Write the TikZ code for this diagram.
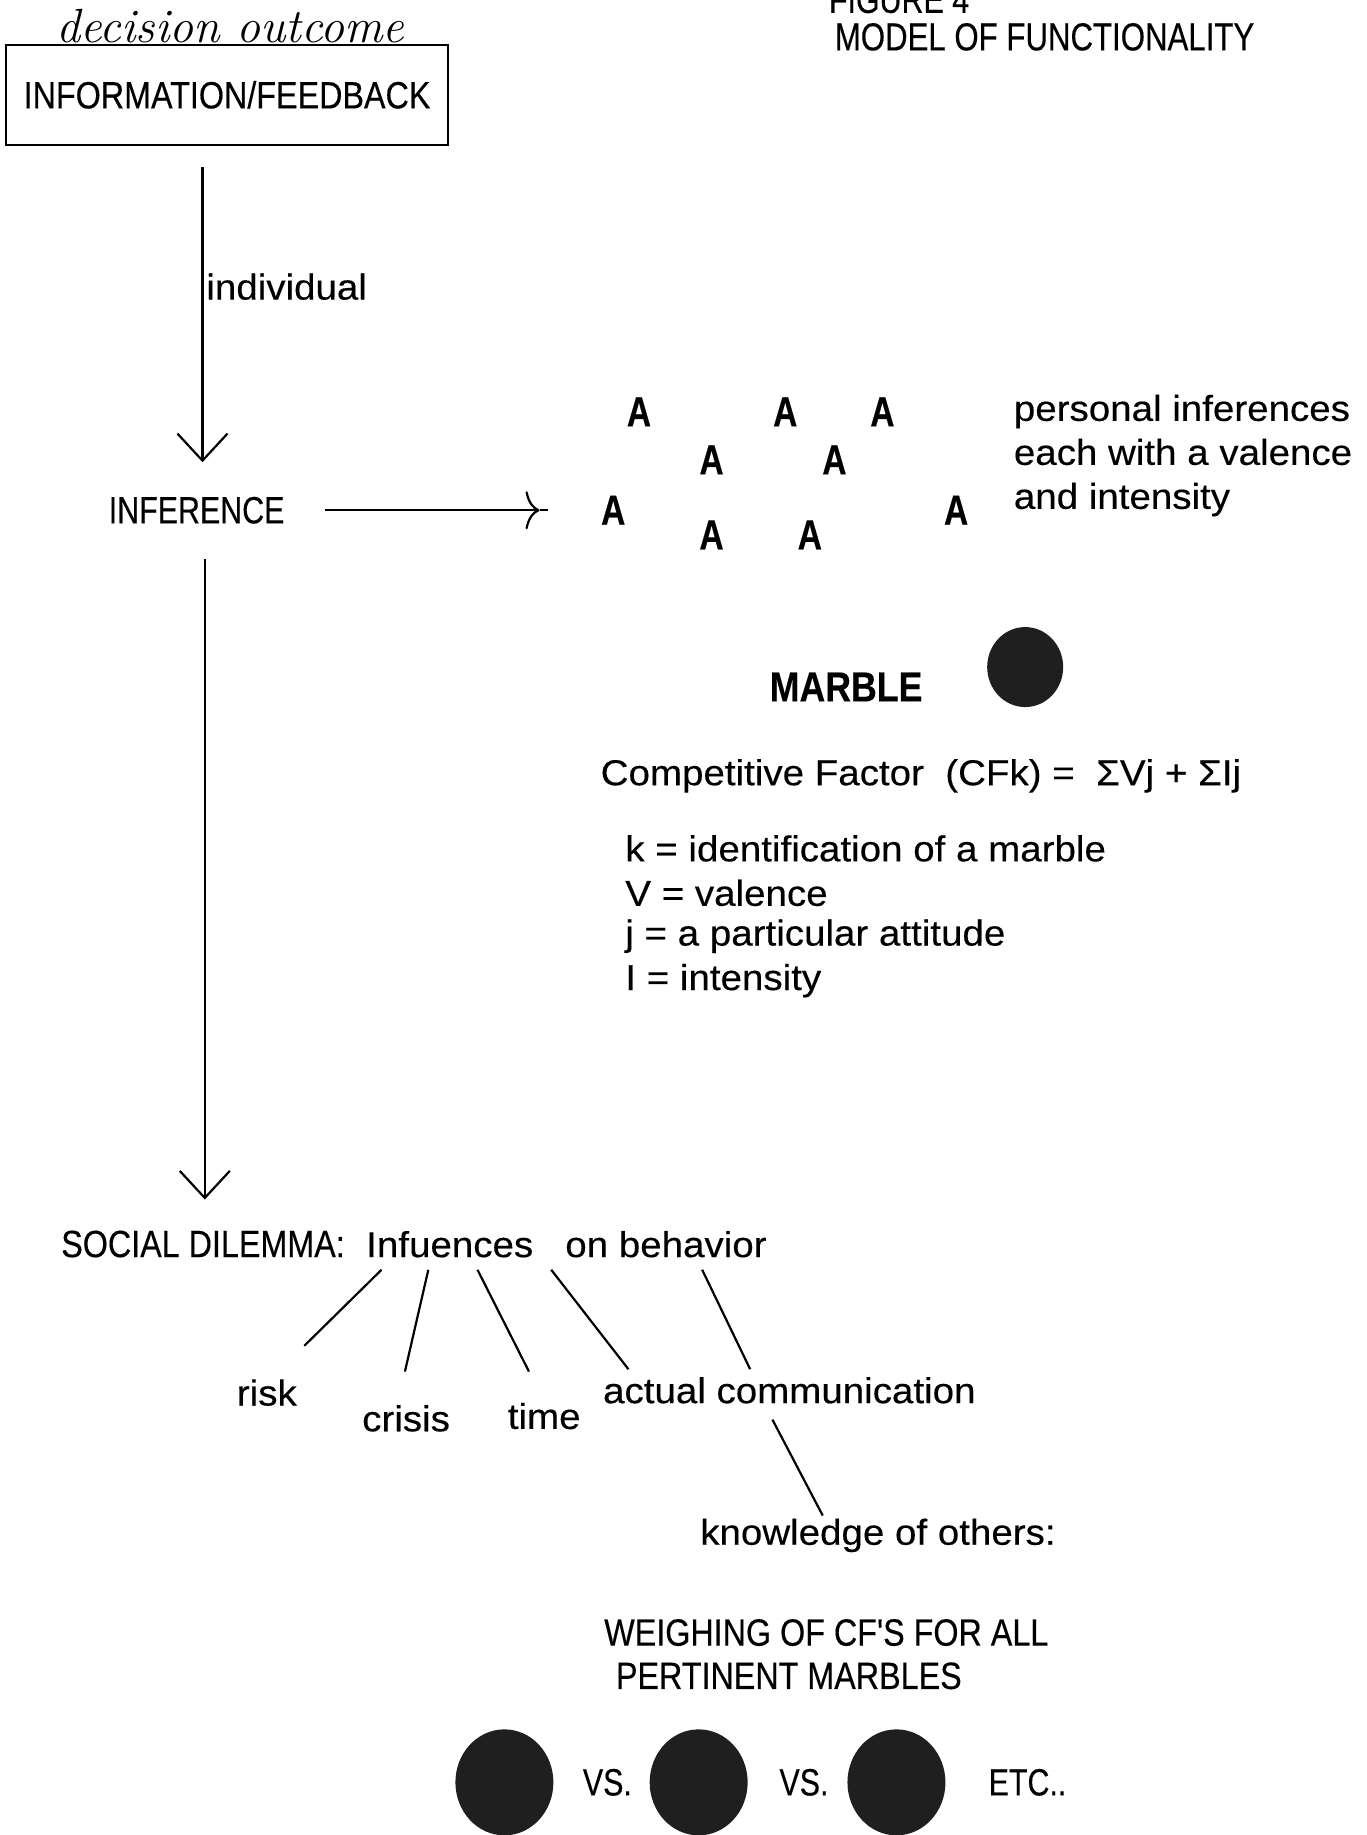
\documentclass[tikz,border=0pt]{standalone}
\usepackage{fontspec}
\setmainfont{Liberation Sans}
\newfontfamily\bodyfont{Liberation Sans}[FakeStretch=1.07,FakeBold=0.3]
\newfontfamily\capsfont{Liberation Sans}[FakeStretch=0.8,FakeBold=0.3]
\newfontfamily\capswfont{Liberation Sans}[FakeStretch=0.85,FakeBold=0.3]
\newfontfamily\handfont{Latin Modern Roman}
\usetikzlibrary{arrows.meta,shapes.geometric}
\begin{document}
\begin{tikzpicture}[x=0.5852pt,y=-0.5852pt,
  txt/.style={inner sep=0pt, font=\bodyfont\fontsize{18}{22}\selectfont},
  capstxt/.style={inner sep=0pt, font=\capsfont\fontsize{19}{22}\selectfont},
  letterA/.style={inner sep=0pt, font=\capsfont\bfseries\fontsize{21}{22}\selectfont},
  conn/.style={line width=1.1pt},
  varrow/.style={conn, -{Straight Barb[length=13.5pt,width=25pt]}},
  harrow/.style={conn, -{Computer Modern Rightarrow[length=7pt,width=19pt]}},
  marble/.style={ellipse, fill=black!88, draw=none, inner sep=0pt}]
\useasboundingbox (0,0) rectangle (1168,1568);

% header
\node[inner sep=0pt, font=\handfont\itshape\fontsize{24}{28}\selectfont] (hand) at (197,22) {decision outcome};
\node[draw, line width=1.2pt, minimum width=221pt, minimum height=50pt, inner sep=0pt,
      font=\capswfont\fontsize{19}{22}\selectfont] (fb) at (194,81) {INFORMATION/FEEDBACK};
\node[capstxt, anchor=base west] (fig) at (708,11) {FIGURE 4};
\node[capstxt, anchor=base west, font=\capsfont\fontsize{19.5}{22}\selectfont] (title) at (713,43) {MODEL OF FUNCTIONALITY};

% first arrow
\coordinate (a1s) at (173,143);
\coordinate (a1e) at (173,395);
\draw[varrow] (a1s) -- (a1e);
\node[txt, anchor=west] (indiv) at (176,245) {individual};

\node[capstxt] (inf) at (168,436) {INFERENCE};

% horizontal arrow
\coordinate (a2s) at (278,436);
\coordinate (a2e) at (461,436);
\coordinate (a2x) at (468,436);
\draw[harrow] (a2s) -- (a2e);
\draw[conn] (a2e) -- (a2x);

% attitudes
\node[letterA] (A1) at (546,352) {A};
\node[letterA] (A2) at (671,352) {A};
\node[letterA] (A3) at (754,352) {A};
\node[letterA] (A4) at (608,393) {A};
\node[letterA] (A5) at (713,393) {A};
\node[letterA] (A6) at (524,436) {A};
\node[letterA] (A7) at (817,436) {A};
\node[letterA] (A8) at (608,457) {A};
\node[letterA] (A9) at (692,457) {A};
\node[txt, anchor=north west, align=left] (pers) at (866,337)
  {personal inferences\\each with a valence\\and intensity};

% marble
\node[inner sep=0pt, font=\capswfont\bfseries\fontsize{21}{22}\selectfont] (mlab) at (723,587) {MARBLE};
\node[marble, minimum width=38pt, minimum height=40pt] (m0) at (876,570) {};

\node[txt, anchor=west] (cf) at (513,663) {Competitive Factor\ \ (CFk) =\ \ ΣVj + ΣIj};
\node[txt, anchor=west] (d1) at (534,725) {k = identification of a marble};
\node[txt, anchor=west] (d2) at (534,763) {V = valence};
\node[txt, anchor=west] (d3) at (534,800) {j = a particular attitude};
\node[txt, anchor=west] (d4) at (534,838) {I = intensity};

% second vertical arrow
\coordinate (a3s) at (175,478);
\coordinate (a3e) at (175,1025);
\draw[varrow] (a3s) -- (a3e);

% social dilemma
\node[txt, anchor=west] (soc) at (52,1063) {{\capswfont\fontsize{19}{22}\selectfont SOCIAL DILEMMA:}\ \ Infuences\ \ \ on behavior};
\node[txt] (risk) at (228,1190) {risk};
\node[txt] (crisis) at (347,1212) {crisis};
\node[txt] (time) at (465,1210) {time};
\node[txt, anchor=west] (actual) at (515,1188) {actual communication};
\node[txt, anchor=west] (know) at (598,1312) {knowledge of others:};

\coordinate (s1) at (326,1085); \coordinate (e1) at (260,1150);
\coordinate (s2) at (366,1085); \coordinate (e2) at (346,1172);
\coordinate (s3) at (408,1085); \coordinate (e3) at (452,1172);
\coordinate (s4) at (471,1085); \coordinate (e4) at (537,1170);
\coordinate (s5) at (600,1085); \coordinate (e5) at (641,1170);
\coordinate (s6) at (660,1213); \coordinate (e6) at (703,1295);
\foreach \i in {1,...,6} { \draw[conn] (s\i) -- (e\i); }

% weighing
\node[capstxt, anchor=west, font=\capswfont\fontsize{19}{22}\selectfont] (w1) at (516,1395) {WEIGHING OF CF'S FOR ALL};
\node[capstxt, anchor=west, font=\capswfont\fontsize{19}{22}\selectfont] (w2) at (526,1432) {PERTINENT MARBLES};

\node[marble, minimum width=49pt, minimum height=53pt] (m1) at (431,1523) {};
\node[capstxt] (vs1) at (519,1523) {VS.};
\node[marble, minimum width=49pt, minimum height=53pt] (m2) at (597,1523) {};
\node[capstxt] (vs2) at (687,1523) {VS.};
\node[marble, minimum width=49pt, minimum height=53pt] (m3) at (766,1523) {};
\node[capstxt] (etc) at (878,1523) {ETC..};
\end{tikzpicture}
\end{document}
